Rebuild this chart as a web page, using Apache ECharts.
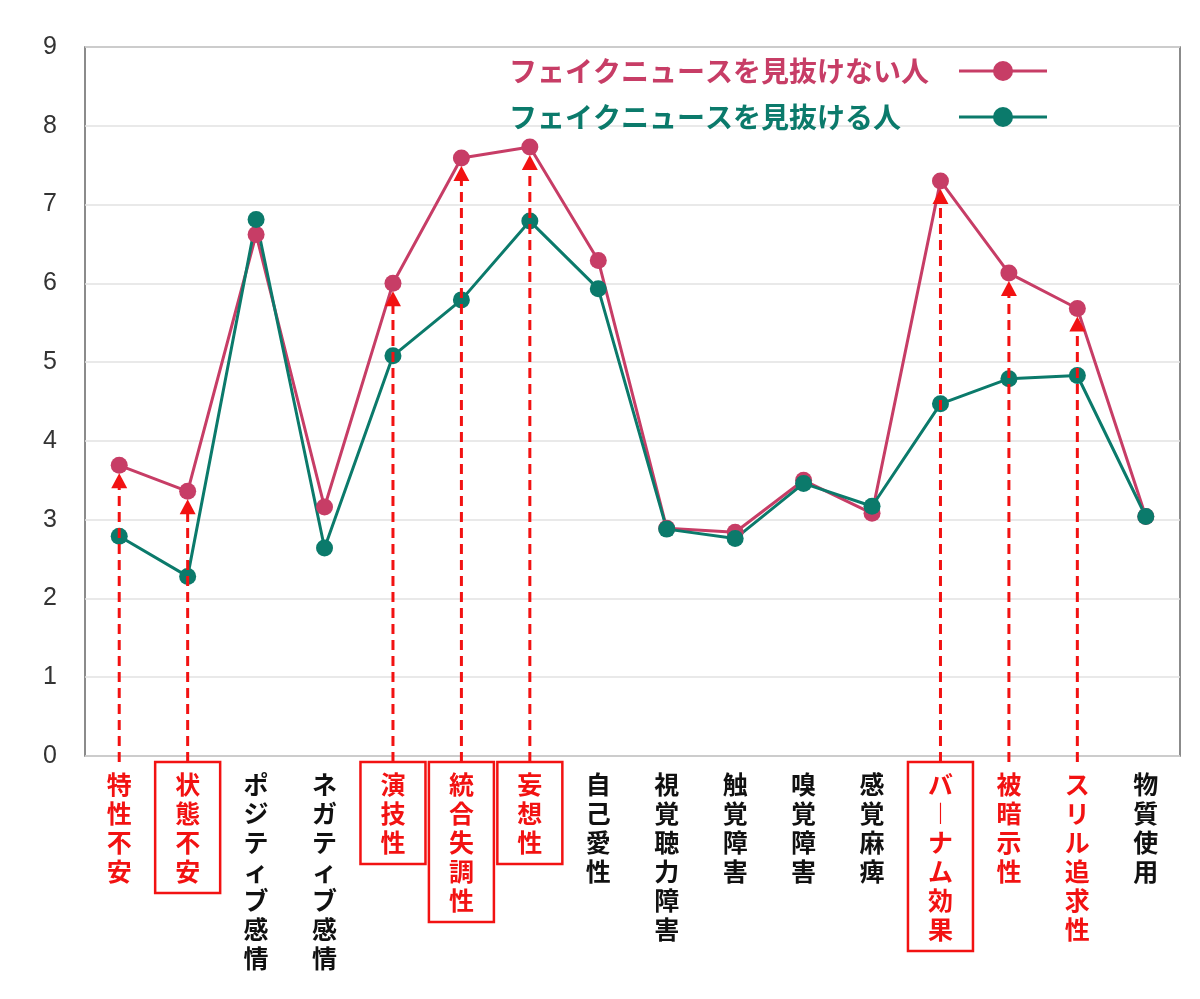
<!DOCTYPE html>
<html>
<head>
<meta charset="utf-8">
<script src="https://cdn.jsdelivr.net/npm/echarts@6/dist/echarts.min.js"></script>
<style>
  html, body { margin: 0; padding: 0; background: #fff; }
  #chart { width: 1200px; height: 999px; }
</style>
</head>
<body>
<div id="chart"></div>
<script>
// カテゴリ
var categories = ['特性不安', '状態不安', 'ポジティブ感情', 'ネガティブ感情', '演技性', '統合失調性', '妄想性', '自己愛性',
	'視覚聴力障害', '触覚障害', '嗅覚障害', '感覚麻痺', 'バーナム効果', '被暗示性', 'スリル追求性', '物質使用'];
// 見抜けない人
var cannotDetect = [3.69, 3.36, 6.62, 3.16, 6.0, 7.59, 7.73, 6.29, 2.89, 2.84, 3.5, 3.08, 7.3, 6.13, 5.68, 3.04];
// 見抜ける人
var canDetect = [2.79, 2.28, 6.81, 2.64, 5.08, 5.79, 6.79, 5.93, 2.88, 2.76, 3.46, 3.17, 4.47, 4.79, 4.83, 3.04];
// 赤字・枠付きのラベル
var redLabels = ['特性不安', '状態不安', '演技性', '統合失調性', '妄想性', 'バーナム効果', '被暗示性', 'スリル追求性'];
var boxedLabels = ['状態不安', '演技性', '統合失調性', '妄想性', 'バーナム効果'];
var yTicks = [0, 9, 1];

var PINK = '#c73d66';
var GREEN = '#0b7a6b';
var RED = '#f21212';

var dom = document.getElementById('chart');
var chart = echarts.init(dom);

var axisData = categories.map(function (name) {
	var item = {value: name};
	if (redLabels.indexOf(name) >= 0) {
		item.textStyle = {color: RED};
		if (boxedLabels.indexOf(name) >= 0) {
			item.textStyle.borderColor = RED;
			item.textStyle.borderWidth = 2.5;
		}
	}
	return item;
});

// 矢印のデータ（カテゴリ番号, 値）
var arrowData = [];
categories.forEach(function (name, i) {
	if (redLabels.indexOf(name) >= 0) {
		arrowData.push([i, cannotDetect[i]]);
	}
});

function renderArrow(params, api) {
	var p0 = api.coord([api.value(0), 0]);
	var p1 = api.coord([api.value(0), api.value(1)]);
	var tipY = p1[1] + 8;
	var headH = 15, headW = 8;
	return {
		type: 'group',
		children: [{
			type: 'line',
			shape: {x1: p0[0], y1: p0[1] + 6, x2: p0[0], y2: tipY + headH - 2},
			style: {stroke: RED, lineWidth: 3, lineDash: [10, 6]}
		}, {
			type: 'polygon',
			shape: {points: [[p0[0], tipY], [p0[0] - headW, tipY + headH], [p0[0] + headW, tipY + headH]]},
			style: {fill: RED}
		}]
	};
}

var option = {
	animation: false,
	backgroundColor: '#fff',
	grid: {
		left: 85, right: 20, top: 47, bottom: 243,
		show: true,
		borderColor: '#666',
		borderWidth: 1.5
	},
	legend: {
		orient: 'vertical',
		left: 504,
		top: 52,
		align: 'right',
		itemWidth: 88,
		itemHeight: 25,
		itemGap: 18,
		selectedMode: false,
		lineStyle: {width: 3},
		formatter: '{t|{name}}',
		textStyle: {
			fontFamily: 'Noto Sans CJK JP',
			fontWeight: 'bold',
			fontSize: 28,
			rich: {
				t: {
					width: 445,
					align: 'left',
					fontFamily: 'Noto Sans CJK JP',
					fontWeight: 'bold',
					fontSize: 28
				}
			}
		},
		data: [
			{name: 'フェイクニュースを見抜けない人', textStyle: {color: PINK}},
			{name: 'フェイクニュースを見抜ける人', textStyle: {color: GREEN}}
		]
	},
	xAxis: {
		type: 'category',
		data: axisData,
		axisLine: {show: false},
		axisTick: {show: false},
		axisLabel: {
			interval: 0,
			margin: 6,
			verticalAlign: 'top',
			fontFamily: 'Noto Sans CJK JP',
			fontWeight: 'bold',
			fontSize: 25,
			lineHeight: 29,
			color: '#111',
			padding: [8, 20, 7, 20],
			formatter: function (v) {
				return v.replace(/ー/g, '︱').split('').join('\n');
			}
		}
	},
	yAxis: {
		type: 'value',
		min: yTicks[0],
		max: yTicks[1],
		interval: yTicks[2],
		axisLine: {show: false},
		axisTick: {show: false},
		axisLabel: {
			margin: 28,
			fontFamily: 'Liberation Sans',
			fontSize: 25,
			color: '#333'
		},
		splitLine: {lineStyle: {color: '#e2e2e2', width: 1.5}}
	},
	series: [{
		name: 'フェイクニュースを見抜けない人',
		type: 'line',
		data: cannotDetect,
		symbol: 'circle',
		symbolSize: 17,
		lineStyle: {width: 3, color: PINK},
		itemStyle: {color: PINK}
	}, {
		name: 'フェイクニュースを見抜ける人',
		type: 'line',
		data: canDetect,
		symbol: 'circle',
		symbolSize: 17,
		lineStyle: {width: 3, color: GREEN},
		itemStyle: {color: GREEN}
	}, {
		type: 'custom',
		name: 'arrows',
		data: arrowData,
		renderItem: renderArrow,
		z: 5,
		silent: true
	}]
};

chart.setOption(option);
</script>
</body>
</html>
